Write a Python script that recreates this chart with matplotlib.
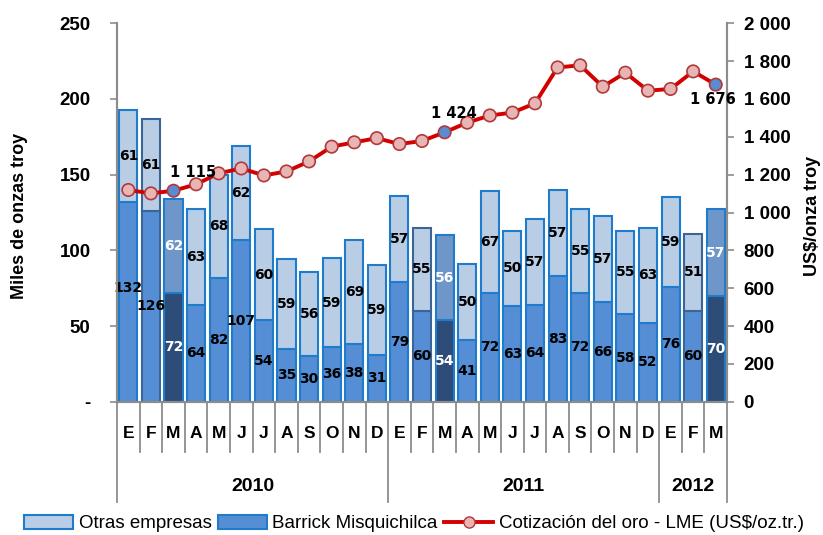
import numpy as np
import matplotlib
matplotlib.use('Agg')
import matplotlib.pyplot as plt
from matplotlib.patches import Patch
from matplotlib.lines import Line2D
import matplotlib.transforms as mtransforms

plt.rcParams['font.family'] = ['Liberation Sans', 'DejaVu Sans']

# data
months = ['E', 'F', 'M', 'A', 'M', 'J', 'J', 'A', 'S', 'O', 'N', 'D',
          'E', 'F', 'M', 'A', 'M', 'J', 'J', 'A', 'S', 'O', 'N', 'D',
          'E', 'F', 'M']
years = ['2010', '2011', '2012']
months_per_year = [12, 12, 3]

barrick = [132, 126, 72, 64, 82, 107, 54, 35, 30, 36, 38, 31,
           79, 60, 54, 41, 72, 63, 64, 83, 72, 66, 58, 52,
           76, 60, 70]
otras = [61, 61, 62, 63, 68, 62, 60, 59, 56, 59, 69, 59,
         57, 55, 56, 50, 67, 50, 57, 57, 55, 57, 55, 63,
         59, 51, 57]
oro = [1119, 1101, 1115, 1149, 1207, 1233, 1196, 1217, 1270, 1348, 1371, 1393,
       1362, 1378, 1424, 1475, 1513, 1528, 1577, 1767, 1778, 1665, 1739, 1644,
       1653, 1746, 1676]
highlight = [2, 14, 26]   # marzo de cada año
price_labels = {2: (20, 18), 14: (9, 19), 26: (-3, -15)}  # offset en pixeles
label_shift = {0: 9}      # etiqueta movida a mano en el original (unidades de y)

c_bot = '#558ED5'
c_top = '#B9CDE5'
c_bot_hl = '#2E4C78'
c_top_hl = '#6F96C8'
c_edge = '#1F7BCB'
c_edge_dark = '#3C6597'
c_line = '#D40000'
grey = '#8C8C8C'

n = len(months)
x = np.arange(n)

fig = plt.figure(figsize=(8.23, 5.35), dpi=100)
ax = fig.add_axes([0.1422, 0.2492, 0.7412, 0.7072])
ax2 = ax.twinx()

bot_cols = [c_bot_hl if i in highlight else c_bot for i in x]
top_cols = [c_top_hl if i in highlight else c_top for i in x]
edge_cols = [c_edge_dark if months[i] == 'F' else c_edge for i in x]

ax.bar(x, barrick, width=0.8, color=bot_cols, edgecolor=edge_cols, linewidth=1.5, zorder=2)
ax.bar(x, otras, width=0.8, bottom=barrick, color=top_cols, edgecolor=edge_cols, linewidth=1.5, zorder=2)

for i in x:
    tc = 'white' if i in highlight else 'black'
    ax.text(i, barrick[i] / 2.0 + label_shift.get(i, 0), str(barrick[i]), ha='center', va='center',
            fontsize=10, fontweight='bold', family='DejaVu Sans', color=tc, zorder=3)
    ax.text(i, barrick[i] + otras[i] / 2.0, str(otras[i]), ha='center', va='center',
            fontsize=10, fontweight='bold', family='DejaVu Sans', color=tc, zorder=3)

ax.set_xlim(-0.5, n - 0.5)
ax.set_ylim(0, 250)
ax.set_yticks(np.arange(0, 251, 50))
ax.set_yticklabels(['-' if v == 0 else str(v) for v in range(0, 251, 50)])
ax.set_xticks([])

ax2.plot(x, oro, color=c_line, linewidth=2.8, zorder=4)
mfc = ['#5B8BD0' if i in highlight else '#E8B4B4' for i in x]
ax2.scatter(x, oro, s=80, c=mfc, edgecolors='#B03A3A', linewidths=1.2, zorder=5)
for i, (dx, dy) in price_labels.items():
    ax2.annotate('{:,}'.format(oro[i]).replace(',', ' '), (i, oro[i]),
                 xytext=(dx, dy), textcoords='offset pixels', ha='center', va='center',
                 fontsize=10.5, fontweight='bold', family='DejaVu Sans', zorder=6)
ax2.set_ylim(0, 2000)
ax2.set_yticks(np.arange(0, 2001, 200))
ax2.set_yticklabels(['{:,}'.format(v).replace(',', ' ') for v in range(0, 2001, 200)])

for a in (ax, ax2):
    a.spines['top'].set_visible(False)
    for s in ('left', 'right', 'bottom'):
        a.spines[s].set_color(grey)
        a.spines[s].set_linewidth(1.5)
    a.tick_params(axis='y', direction='out', length=5, width=1.2, color=grey,
                  labelsize=13.5)
    for t in a.get_yticklabels():
        t.set_fontweight('bold')
ax.tick_params(axis='y', pad=14)
ax2.tick_params(axis='y', pad=7)

ax.set_ylabel('Miles de onzas troy', fontsize=13, fontweight='bold')
ax.yaxis.set_label_coords(-0.146, 0.49)
ax2.set_ylabel('US$/onza troy', fontsize=13, fontweight='bold', rotation=90)
ax2.yaxis.set_label_coords(1.126, 0.49)

# eje de categorias: meses y años
trans = mtransforms.blended_transform_factory(ax.transData, ax.transAxes)
for i, m in enumerate(months):
    ax.text(i, -0.083, m, transform=trans, ha='center', va='center',
            fontsize=12.5, fontweight='bold')
year_edges = np.concatenate([[0], np.cumsum(months_per_year)]) - 0.5
for b in np.arange(n + 1) - 0.5:
    y_end = -0.264 if b in year_edges else -0.132
    ax.plot([b, b], [0, y_end], transform=trans, color=grey, linewidth=1.3, clip_on=False)
for k, yr in enumerate(years):
    mid = (year_edges[k] + year_edges[k + 1]) / 2.0
    ax.text(mid, -0.223, yr, transform=trans, ha='center', va='center',
            fontsize=14, fontweight='bold')

handles = [Patch(facecolor=c_top, edgecolor=c_edge, linewidth=1.5),
           Patch(facecolor=c_bot, edgecolor=c_edge, linewidth=1.5),
           Line2D([0], [0], color=c_line, linewidth=2.8, marker='o', markersize=8,
                  markerfacecolor='#E8B4B4', markeredgecolor='#B03A3A')]
labels = ['Otras empresas', 'Barrick Misquichilca', 'Cotización del oro - LME (US$/oz.tr.)']
fig.legend(handles, labels, loc='center', bbox_to_anchor=(0.503, 0.021), ncol=3,
           frameon=False, fontsize=13.5, handlelength=2.6, handleheight=0.75,
           handletextpad=0.3, columnspacing=0.35)

fig.savefig('out.png', dpi=100)
